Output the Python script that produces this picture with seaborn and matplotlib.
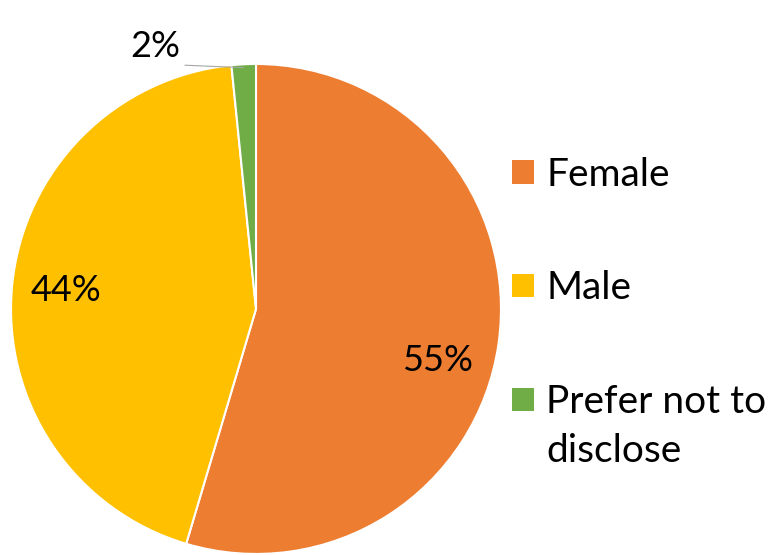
import seaborn as sns
import matplotlib.pyplot as plt
from matplotlib.patches import Patch, Rectangle
from matplotlib.legend_handler import HandlerPatch

sns.set_theme(style="white")
plt.rcParams['font.family'] = ['Lato', 'DejaVu Sans']

# data
categorias = ['Female', 'Male', 'Prefer not to\ndisclose']
porcentajes = [54.6, 43.8, 1.6]
colores = ['#ED7D31', '#FFC000', '#70AD47']

fig = plt.figure(figsize=(7.76, 5.55), dpi=100)
ax = fig.add_axes([0.0142, 0.0018, 0.6314, 0.883])

wedges, texts, autotexts = ax.pie(
    porcentajes, colors=colores, startangle=90, counterclock=False,
    autopct='%.0f%%', pctdistance=0.78,
    wedgeprops=dict(edgecolor='white', linewidth=1.5),
    textprops=dict(fontsize=26, color='black'))
ax.set_xlim(-1, 1)
ax.set_ylim(-1, 1)
ax.set_aspect('equal')

# la etiqueta del trozo pequeño va fuera con una línea guía
autotexts[2].set_position((-0.41, 1.07))
ax.plot([-0.29, -0.05], [0.995, 0.985], color='#a6a6a6', linewidth=0.8, clip_on=False)
autotexts[0].set_position((0.74, -0.21))


# el cuadro de la leyenda de dos líneas se alinea con la primera línea
def cuadro_arriba(legend, orig_handle, xdescent, ydescent, width, height, fontsize):
    return Rectangle((-xdescent, -ydescent + 0.72 * fontsize), width, height)


handles = [Patch(facecolor=c, edgecolor='none') for c in colores]
leg = fig.legend(handles, categorias, loc='center left', bbox_to_anchor=(0.66, 0.436),
                 frameon=False, fontsize=28, labelcolor='black', borderpad=0,
                 borderaxespad=0, handlelength=0.55, handleheight=0.55,
                 handletextpad=0.33, labelspacing=2.0,
                 handler_map={handles[2]: HandlerPatch(patch_func=cuadro_arriba)})
for t in leg.get_texts():
    t.set_linespacing(1.45)

fig.savefig('out.png', dpi=100)
